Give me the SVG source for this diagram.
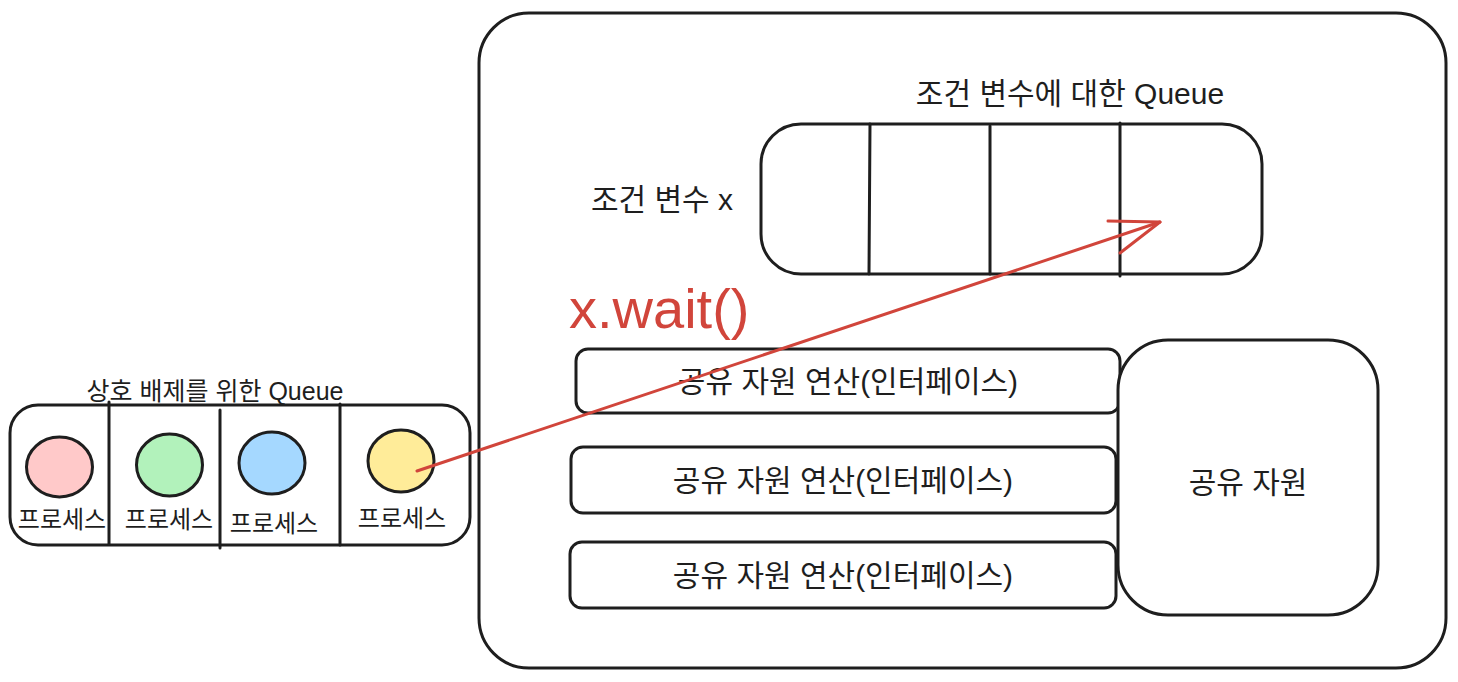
<svg xmlns="http://www.w3.org/2000/svg" width="1458" height="682" viewBox="0 0 1458 682">
<style>
.box{fill:#fff;stroke:#1e1e1e;stroke-width:3}
.ln{stroke:#1e1e1e;stroke-width:3;fill:none;stroke-linecap:round}
.t{font-family:"Liberation Sans","Noto Sans CJK KR",sans-serif;fill:#1e1e1e;text-anchor:middle}
.red{stroke:#d1453b;stroke-width:3;fill:none;stroke-linecap:round;stroke-linejoin:round}
.op{font-size:30px}
.pl{font-size:24px}
</style>
<rect width="1458" height="682" fill="#fff"/>
<g id="monitor">
<rect class="box" x="479" y="13" width="967" height="655" rx="50"/>
</g>
<g id="cond-queue-label"><text class="t" x="1070" y="104" font-size="30">조건 변수에 대한 Queue</text></g>
<g id="cond-var-label"><text class="t" x="662" y="210" font-size="30">조건 변수 x</text></g>
<g id="cond-queue">
<rect class="box" x="761" y="124" width="501" height="150" rx="40"/>
<line class="ln" x1="870" y1="124" x2="869" y2="274"/>
<line class="ln" x1="990" y1="126" x2="990" y2="274"/>
<line class="ln" x1="1120" y1="123" x2="1120" y2="276"/>
</g>
<g id="op1"><rect class="box" x="576" y="349" width="544" height="64" rx="12"/><text class="t op" x="848" y="392">공유 자원 연산(인터페이스)</text></g>
<g id="op2"><rect class="box" x="571" y="447" width="545" height="66" rx="12"/><text class="t op" x="843" y="491">공유 자원 연산(인터페이스)</text></g>
<g id="op3"><rect class="box" x="570" y="542" width="546" height="66" rx="12"/><text class="t op" x="843" y="586">공유 자원 연산(인터페이스)</text></g>
<g id="shared"><rect class="box" x="1118" y="340" width="260" height="275" rx="50"/><text class="t" x="1248" y="493" font-size="30">공유 자원</text></g>
<g id="mutex-label"><text class="t" x="215" y="400" font-size="25">상호 배제를 위한 Queue</text></g>
<g id="mutex-queue">
<rect class="box" x="10" y="405" width="460" height="140" rx="28"/>
<line class="ln" x1="109" y1="402" x2="109" y2="544"/>
<line class="ln" x1="220" y1="410" x2="220" y2="548"/>
<line class="ln" x1="340" y1="404" x2="340" y2="545"/>
</g>
<g id="p1"><ellipse cx="59.5" cy="467" rx="33" ry="30" fill="#ffc9c9" stroke="#1e1e1e" stroke-width="3"/><text class="t pl" x="62" y="528">프로세스</text></g>
<g id="p2"><ellipse cx="169.5" cy="465" rx="33" ry="31" fill="#b2f2bb" stroke="#1e1e1e" stroke-width="3"/><text class="t pl" x="169" y="528">프로세스</text></g>
<g id="p3"><ellipse cx="272" cy="463" rx="33" ry="31" fill="#a5d8ff" stroke="#1e1e1e" stroke-width="3"/><text class="t pl" x="274" y="532">프로세스</text></g>
<g id="p4"><ellipse cx="401" cy="461" rx="33" ry="31" fill="#ffec99" stroke="#1e1e1e" stroke-width="3"/><text class="t pl" x="402" y="527">프로세스</text></g>
<g id="connectors">
<path class="red" d="M417 471 L1160 222"/>
<path class="red" d="M1108 221 L1160 222 L1120 253"/>
<text x="569" y="328" font-family="Liberation Sans,sans-serif" font-size="56" fill="#d1453b">x.wait()</text>
</g>
</svg>
